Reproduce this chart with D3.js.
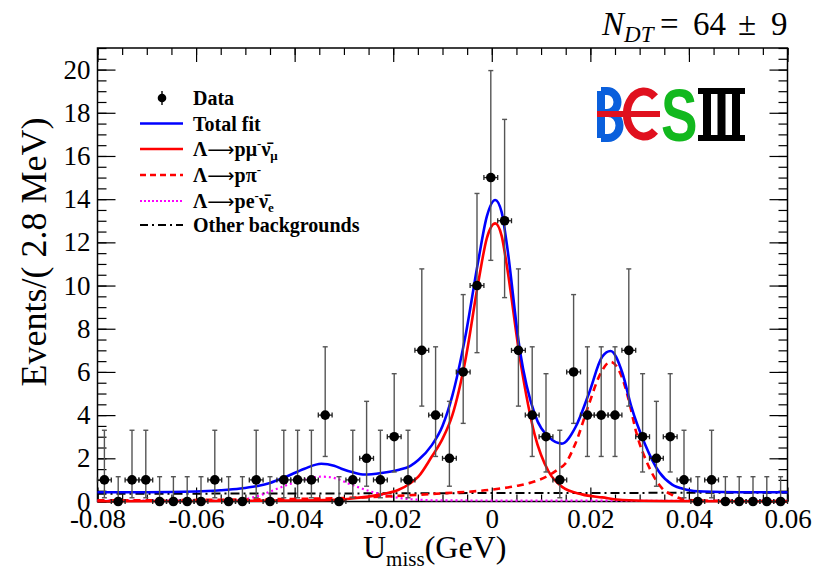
<!DOCTYPE html>
<html>
<head>
<meta charset="utf-8">
<script src="https://cdn.jsdelivr.net/npm/d3@7"></script>
<style>
  body { margin: 0; background: #fff; }
  svg { display: block; }
  text { font-family: "Liberation Serif", "Times New Roman", serif; }
</style>
</head>
<body>
<div id="chart"></div>
<script>
(function () {
    'use strict';

    // --- data ---
    var binWidth = 0.0028;
    var binCentres = [
        -0.0786, -0.0758, -0.0730, -0.0702, -0.0674, -0.0646, -0.0618, -0.0590, -0.0562, -0.0534,
        -0.0506, -0.0478, -0.0450, -0.0422, -0.0394, -0.0366, -0.0338, -0.0310, -0.0282, -0.0254,
        -0.0226, -0.0198, -0.0170, -0.0142, -0.0114, -0.0086, -0.0058, -0.0030, -0.0002, 0.0026,
        0.0054, 0.0082, 0.0110, 0.0138, 0.0166, 0.0194, 0.0222, 0.0250, 0.0278, 0.0306,
        0.0334, 0.0362, 0.0390, 0.0418, 0.0446, 0.0474, 0.0502, 0.0530, 0.0558, 0.0586
    ];
    var counts = [
        1, 0, 1, 1, 0, 0, 0, 0, 1, 0,
        0, 1, 0, 1, 1, 1, 4, 0, 1, 2,
        1, 3, 1, 7, 4, 2, 6, 10, 15, 13,
        7, 4, 3, 1, 6, 4, 4, 4, 7, 3,
        2, 3, 1, 0, 1, 0, 0, 0, 0, 0
    ];
    // Poisson (68%) error bars, indexed by the bin count
    var poissonLow = [0, 0.827, 1.292, 1.633, 1.914, 2.160, 2.382, 2.583, 2.768, 2.943, 3.108, 3.265, 3.415, 3.559, 3.699, 3.833];
    var poissonHigh = [1.148, 2.299, 2.638, 2.918, 3.163, 3.383, 3.581, 3.771, 3.944, 4.108, 4.264, 4.414, 4.557, 4.694, 4.826, 4.954];

    var totalFit = [
        [-0.080, 0.43], [-0.070, 0.43], [-0.060, 0.46], [-0.055, 0.52], [-0.051, 0.60], [-0.0475, 0.72],
        [-0.045, 0.86], [-0.042, 1.12], [-0.038, 1.52], [-0.0346, 1.75], [-0.032, 1.66], [-0.0305, 1.52],
        [-0.028, 1.34], [-0.0258, 1.25], [-0.0224, 1.32], [-0.019, 1.46], [-0.0165, 1.65], [-0.0149, 1.92],
        [-0.0122, 2.6], [-0.010, 3.5], [-0.008, 4.9], [-0.0054, 7.6], [-0.0027, 11.2], [-0.001, 13.2],
        [0.0007, 13.96], [0.002, 13.4], [0.003, 12.0], [0.0057, 7.0], [0.0087, 4.05], [0.0115, 3.0],
        [0.0142, 2.68], [0.017, 3.45], [0.0197, 5.0], [0.0224, 6.7], [0.0241, 6.97], [0.0265, 5.95],
        [0.0283, 4.4], [0.031, 2.7], [0.034, 1.35], [0.0366, 0.78], [0.0393, 0.56], [0.043, 0.46],
        [0.050, 0.43], [0.060, 0.43]
    ];
    var muCurve = [
        [-0.080, 0.01], [-0.060, 0.02], [-0.045, 0.04], [-0.035, 0.06], [-0.0326, 0.07], [-0.028, 0.15],
        [-0.0244, 0.25], [-0.0224, 0.33], [-0.019, 0.53], [-0.0168, 0.8], [-0.0149, 1.15], [-0.0122, 2.07],
        [-0.010, 2.9], [-0.008, 4.0], [-0.0054, 6.5], [-0.0027, 10.2], [-0.001, 12.2], [0.0007, 12.88],
        [0.002, 12.3], [0.003, 11.0], [0.0058, 6.5], [0.0087, 3.1], [0.0115, 1.4], [0.0142, 0.69],
        [0.0183, 0.33], [0.0224, 0.19], [0.0265, 0.07], [0.035, 0.02], [0.060, 0.01]
    ];
    var piCurve = [
        [-0.080, 0.05], [-0.060, 0.07], [-0.040, 0.12], [-0.030, 0.16], [-0.020, 0.25], [-0.010, 0.38],
        [0.000, 0.55], [0.005, 0.72], [0.008, 0.88], [0.0115, 1.2], [0.0135, 1.5], [0.0149, 1.75],
        [0.017, 2.7], [0.0197, 4.5], [0.022, 5.9], [0.0241, 6.47], [0.0255, 6.2], [0.0265, 5.7],
        [0.028, 4.5], [0.0292, 3.3], [0.0319, 1.6], [0.0346, 0.6], [0.0366, 0.3], [0.039, 0.1],
        [0.043, 0.04], [0.060, 0.02]
    ];
    var eCurve = [
        [-0.080, 0.04], [-0.060, 0.04], [-0.052, 0.05], [-0.0475, 0.25], [-0.0424, 0.69], [-0.0383, 1.0],
        [-0.0346, 1.15], [-0.0326, 1.12], [-0.0285, 0.78], [-0.0244, 0.45], [-0.0203, 0.22], [-0.0163, 0.1],
        [-0.010, 0.05], [0.060, 0.03]
    ];
    var bkgCurve = [
        [-0.080, 0.36], [-0.040, 0.37], [0.000, 0.39], [0.040, 0.40], [0.060, 0.40]
    ];

    var xTickValues = [-0.08, -0.06, -0.04, -0.02, 0, 0.02, 0.04, 0.06];
    var xTickLabels = ["-0.08", "-0.06", "-0.04", "-0.02", "0", "0.02", "0.04", "0.06"];
    var yTickValues = [0, 2, 4, 6, 8, 10, 12, 14, 16, 18, 20];
    var yTickLabels = ["0", "2", "4", "6", "8", "10", "12", "14", "16", "18", "20"];

    // --- layout ---
    var width = 813, height = 573;
    var frame = { left: 97.5, right: 787.5, top: 48, bottom: 501.5 };

    var svg = d3.select("#chart").append("svg")
        .attr("width", width)
        .attr("height", height)
        .attr("viewBox", "0 0 " + width + " " + height);

    var x = d3.scaleLinear().domain([-0.08, 0.06]).range([frame.left, frame.right]);
    var y = d3.scaleLinear().domain([0, 21]).range([frame.bottom, frame.top]);

    var styleAxis = function (g) {
        g.select(".domain").remove();
        g.selectAll(".tick line").attr("stroke", "#000").attr("stroke-width", 1.2);
        g.selectAll("text")
            .attr("fill", "#000")
            .style("font-family", '"Liberation Serif", serif')
            .style("font-size", "27px");
    };

    // ticks, ROOT style: pointing inwards on all four sides
    svg.append("g").attr("transform", "translate(0," + frame.bottom + ")")
        .call(d3.axisBottom(x).ticks(28).tickSize(-7).tickFormat(""))
        .call(styleAxis);
    svg.append("g").attr("transform", "translate(0," + frame.bottom + ")")
        .call(d3.axisBottom(x).tickValues(xTickValues)
            .tickFormat(function (d, i) { return xTickLabels[i]; })
            .tickSize(-14).tickPadding(7))
        .call(styleAxis);
    svg.append("g").attr("transform", "translate(0," + frame.top + ")")
        .call(d3.axisTop(x).ticks(28).tickSize(-7).tickFormat(""))
        .call(styleAxis);
    svg.append("g").attr("transform", "translate(0," + frame.top + ")")
        .call(d3.axisTop(x).tickValues(xTickValues).tickSize(-14).tickFormat(""))
        .call(styleAxis);
    svg.append("g").attr("transform", "translate(" + frame.left + ",0)")
        .call(d3.axisLeft(y).ticks(42).tickSize(-9).tickFormat(""))
        .call(styleAxis);
    svg.append("g").attr("transform", "translate(" + frame.left + ",0)")
        .call(d3.axisLeft(y).tickValues(yTickValues)
            .tickFormat(function (d, i) { return yTickLabels[i]; })
            .tickSize(-18).tickPadding(7))
        .call(styleAxis);
    svg.append("g").attr("transform", "translate(" + frame.right + ",0)")
        .call(d3.axisRight(y).ticks(42).tickSize(-9).tickFormat(""))
        .call(styleAxis);
    svg.append("g").attr("transform", "translate(" + frame.right + ",0)")
        .call(d3.axisRight(y).tickValues(yTickValues).tickSize(-18).tickFormat(""))
        .call(styleAxis);

    svg.append("rect")
        .attr("x", frame.left).attr("y", frame.top)
        .attr("width", frame.right - frame.left)
        .attr("height", frame.bottom - frame.top)
        .attr("fill", "none")
        .attr("stroke", "#000")
        .attr("stroke-width", 1.5);

    // --- curves ---
    var line = d3.line()
        .x(function (d) { return x(d[0]); })
        .y(function (d) { return y(d[1]); })
        .curve(d3.curveMonotoneX);

    var curves = [
        { data: bkgCurve, color: "#000", width: 2, dash: "9,4,2,4" },
        { data: eCurve, color: "#ff00ff", width: 2.2, dash: "2,3" },
        { data: piCurve, color: "#ff0000", width: 2.6, dash: "7,5" },
        { data: muCurve, color: "#ff0000", width: 2.6, dash: null },
        { data: totalFit, color: "#0000ff", width: 2.6, dash: null }
    ];
    svg.append("g").selectAll("path")
        .data(curves)
        .enter()
        .append("path")
        .attr("d", function (d) { return line(d.data); })
        .attr("fill", "none")
        .attr("stroke", function (d) { return d.color; })
        .attr("stroke-width", function (d) { return d.width; })
        .attr("stroke-dasharray", function (d) { return d.dash; });

    // --- data points with error bars ---
    var points = binCentres.map(function (c, i) {
        var n = counts[i];
        return { c: c, n: n, lo: n - poissonLow[n], hi: n + poissonHigh[n] };
    });
    var pg = svg.append("g").selectAll("g")
        .data(points)
        .enter()
        .append("g");
    var barColor = "#555";
    pg.append("line")
        .attr("x1", function (d) { return x(d.c); })
        .attr("x2", function (d) { return x(d.c); })
        .attr("y1", function (d) { return y(d.lo); })
        .attr("y2", function (d) { return y(d.hi); })
        .attr("stroke", barColor).attr("stroke-width", 1.4);
    pg.append("line")
        .attr("x1", function (d) { return x(d.c) - 2.5; })
        .attr("x2", function (d) { return x(d.c) + 2.5; })
        .attr("y1", function (d) { return y(d.hi); })
        .attr("y2", function (d) { return y(d.hi); })
        .attr("stroke", barColor).attr("stroke-width", 1.4);
    pg.append("line")
        .attr("x1", function (d) { return x(d.c) - 2.5; })
        .attr("x2", function (d) { return x(d.c) + 2.5; })
        .attr("y1", function (d) { return y(d.lo); })
        .attr("y2", function (d) { return y(d.lo); })
        .attr("stroke", barColor).attr("stroke-width", 1.4);
    pg.append("line")
        .attr("x1", function (d) { return x(d.c - binWidth / 2); })
        .attr("x2", function (d) { return x(d.c + binWidth / 2); })
        .attr("y1", function (d) { return y(d.n); })
        .attr("y2", function (d) { return y(d.n); })
        .attr("stroke", "#222").attr("stroke-width", 1.3);
    pg.append("line")
        .attr("x1", function (d) { return x(d.c - binWidth / 2); })
        .attr("x2", function (d) { return x(d.c - binWidth / 2); })
        .attr("y1", function (d) { return y(d.n) - 2.5; })
        .attr("y2", function (d) { return y(d.n) + 2.5; })
        .attr("stroke", "#222").attr("stroke-width", 1.3);
    pg.append("line")
        .attr("x1", function (d) { return x(d.c + binWidth / 2); })
        .attr("x2", function (d) { return x(d.c + binWidth / 2); })
        .attr("y1", function (d) { return y(d.n) - 2.5; })
        .attr("y2", function (d) { return y(d.n) + 2.5; })
        .attr("stroke", "#222").attr("stroke-width", 1.3);
    pg.append("circle")
        .attr("cx", function (d) { return x(d.c); })
        .attr("cy", function (d) { return y(d.n); })
        .attr("r", 4.8)
        .attr("fill", "#000");

    // --- axis titles ---
    var xt = svg.append("text")
        .attr("x", 363).attr("y", 558)
        .style("font-size", "32px")
        .attr("fill", "#000");
    xt.append("tspan").text("U");
    xt.append("tspan").attr("dy", 8).style("font-size", "21px").text("miss");
    xt.append("tspan").attr("dy", -8).text("(GeV)");

    svg.append("text")
        .attr("transform", "translate(46,252) rotate(-90)")
        .attr("text-anchor", "middle")
        .style("font-size", "36px")
        .attr("fill", "#000")
        .text("Events/( 2.8 MeV)");

    // --- N_DT label ---
    var nt = svg.append("text").attr("y", 35).style("font-size", "33px").attr("fill", "#000");
    nt.append("tspan").attr("x", 602).style("font-style", "italic").text("N");
    nt.append("tspan").attr("dy", 7).style("font-style", "italic").style("font-size", "23px").text("DT");
    nt.append("tspan").attr("x", 660).attr("dy", -7).text("=");
    nt.append("tspan").attr("x", 693).text("64");
    nt.append("tspan").attr("x", 738).text("\u00b1");
    nt.append("tspan").attr("x", 771).text("9");

    // --- legend ---
    var legendRows = [
        { kind: "data", y: 98 },
        { kind: "line", y: 123.5, color: "#0000ff", dash: null, width: 2.6 },
        { kind: "line", y: 149, color: "#ff0000", dash: null, width: 2.6 },
        { kind: "line", y: 175, color: "#ff0000", dash: "6,4", width: 2.6 },
        { kind: "line", y: 201, color: "#ff00ff", dash: "2,2", width: 2 },
        { kind: "line", y: 225, color: "#000", dash: "8,4,2,4", width: 2 }
    ];
    var lg = svg.append("g");
    legendRows.forEach(function (r) {
        if (r.kind === "data") {
            lg.append("line").attr("x1", 162).attr("x2", 162)
                .attr("y1", r.y - 7).attr("y2", r.y + 7)
                .attr("stroke", "#000").attr("stroke-width", 1.4);
            lg.append("circle").attr("cx", 162).attr("cy", r.y).attr("r", 4.3).attr("fill", "#000");
        } else {
            lg.append("line").attr("x1", 140).attr("x2", 183)
                .attr("y1", r.y).attr("y2", r.y)
                .attr("stroke", r.color).attr("stroke-width", r.width)
                .attr("stroke-dasharray", r.dash);
        }
    });
    var lt = function (yy) {
        return lg.append("text").attr("x", 193).attr("y", yy + 7)
            .style("font-size", "20px").style("font-weight", "bold").attr("fill", "#000");
    };
    var arrow = function (t) {
        t.append("tspan")
            .style("font-family", '"DejaVu Sans", sans-serif')
            .style("font-weight", "normal")
            .style("font-size", "19px")
            .text("\u27f6");
    };
    lt(98).text("Data");
    lt(123.5).text("Total fit");
    var t1 = lt(149);
    t1.append("tspan").text("\u039b");
    arrow(t1);
    t1.append("tspan").text("p\u03bc");
    t1.append("tspan").attr("dy", -8).style("font-size", "13px").text("-");
    t1.append("tspan").attr("dy", 8).text("\u03bd\u0304");
    t1.append("tspan").attr("dy", 4).style("font-size", "13px").text("\u03bc");
    var t2 = lt(175);
    t2.append("tspan").text("\u039b");
    arrow(t2);
    t2.append("tspan").text("p\u03c0");
    t2.append("tspan").attr("dy", -8).style("font-size", "13px").text("-");
    var t3 = lt(201);
    t3.append("tspan").text("\u039b");
    arrow(t3);
    t3.append("tspan").text("pe");
    t3.append("tspan").attr("dy", -8).style("font-size", "13px").text("-");
    t3.append("tspan").attr("dy", 8).text("\u03bd\u0304");
    t3.append("tspan").attr("dy", 4).style("font-size", "13px").text("e");
    lt(225).text("Other backgrounds");

    // --- BESIII logo ---
    var logo = svg.append("g");
    logo.append("path")
        .attr("d", "M601,91 V138 M601,91 H607 A10.5,11 0 0 1 607,113 H601 M601,113 H608 A11.5,12.5 0 0 1 608,138 H601")
        .attr("fill", "none").attr("stroke", "#0a5fdc").attr("stroke-width", 8);
    logo.append("path")
        .attr("d", "M655,97 A17,22.5 0 1 0 655,131")
        .attr("fill", "none").attr("stroke", "#e0101e").attr("stroke-width", 8);
    logo.append("rect").attr("x", 597).attr("y", 111).attr("width", 63).attr("height", 6).attr("fill", "#e0101e");
    logo.append("text")
        .attr("transform", "translate(661,141) scale(0.74,1)")
        .style("font-family", '"Liberation Sans", Arial, sans-serif')
        .style("font-weight", "bold")
        .style("font-size", "74px")
        .attr("fill", "#12b81e")
        .text("S");
    logo.append("rect").attr("x", 698).attr("y", 88).attr("width", 47).attr("height", 6).attr("fill", "#000");
    logo.append("rect").attr("x", 698).attr("y", 135).attr("width", 47).attr("height", 6).attr("fill", "#000");
    [703, 717.5, 732].forEach(function (bx) {
        logo.append("rect").attr("x", bx).attr("y", 88).attr("width", 8).attr("height", 53).attr("fill", "#000");
    });
}());
</script>
</body>
</html>
